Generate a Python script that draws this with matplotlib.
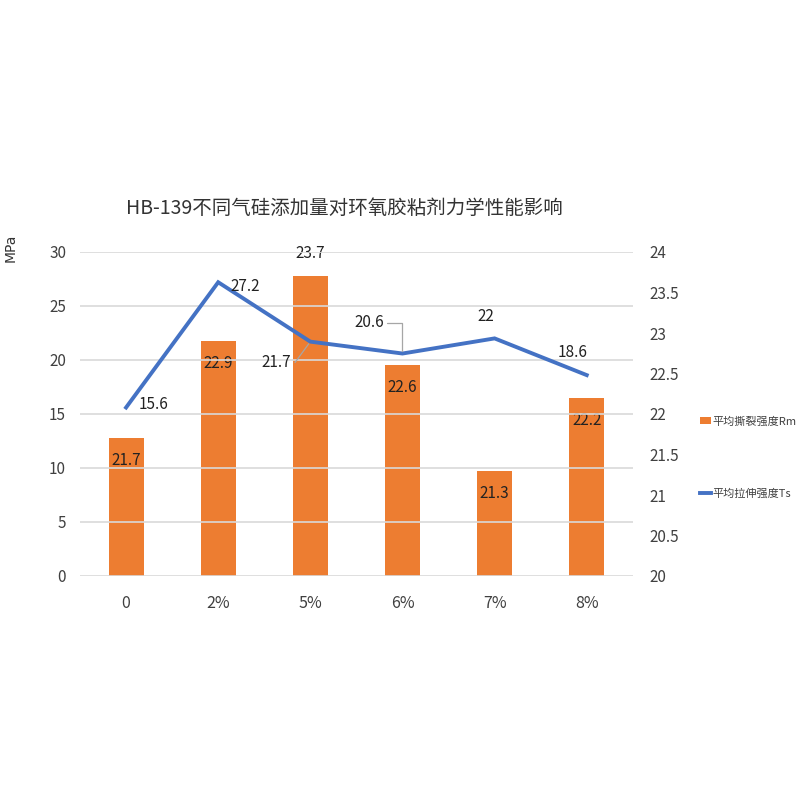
import matplotlib
matplotlib.use("Agg")
import matplotlib.pyplot as plt
from matplotlib.patches import Patch
from matplotlib.lines import Line2D

plt.rcParams['font.family'] = ['Noto Sans CJK SC', 'DejaVu Sans']

categories = ["0", "2%", "5%", "6%", "7%", "8%"]
tear_rm = [21.7, 22.9, 23.7, 22.6, 21.3, 22.2]      # bars, right axis
tensile_ts = [15.6, 27.2, 21.7, 20.6, 22.0, 18.6]   # line, left axis
left_ticks = [0, 5, 10, 15, 20, 25, 30]
right_ticks = [20, 20.5, 21, 21.5, 22, 22.5, 23, 23.5, 24]

bar_color = "#ED7D31"
line_color = "#4472C4"
text_color = "#404040"

fig = plt.figure(figsize=(8, 8), dpi=100)
ax = fig.add_axes([0.1, 0.28, 0.691, 0.405])
ax2 = ax.twinx()

x = list(range(len(categories)))

# bars on the secondary axis
ax2.bar(x, [v - 20 for v in tear_rm], bottom=20, width=0.38, color=bar_color, zorder=2)
ax2.set_ylim(20, 24)
ax2.set_yticks(right_ticks)
ax2.set_yticklabels([f"{t:g}" for t in right_ticks])

# line on the primary axis, drawn above the bars
ax.set_zorder(ax2.get_zorder() + 1)
ax.patch.set_visible(False)
ax.plot(x, tensile_ts, color=line_color, linewidth=2.8, solid_joinstyle='miter', zorder=3)
ax.set_ylim(0, 30)
ax.set_yticks(left_ticks)
ax.set_xlim(-0.5, len(categories) - 0.5)
ax.set_xticks(x)
ax.set_xticklabels(categories)
ax.yaxis.grid(True, color="#D9D9D9", linewidth=1.2, zorder=0)
ax2.set_axisbelow(True)

for a in (ax, ax2):
    for s in a.spines.values():
        s.set_visible(False)
    a.tick_params(length=0, labelsize=11, colors=text_color)
ax.tick_params(axis='x', pad=14, labelsize=11.5)
ax.tick_params(axis='y', pad=10)
ax2.tick_params(axis='y', pad=12)

# bar value labels
for i, v in enumerate(tear_rm):
    if i == 2:
        ax2.annotate(f"{v:g}", (i, v), xytext=(0, 10), textcoords="offset points",
                     ha="center", va="bottom", fontsize=11, color="#222222")
    else:
        ax2.annotate(f"{v:g}", (i, v), xytext=(0, -10), textcoords="offset points",
                     ha="center", va="top", fontsize=11, color="#222222")

# line value labels
line_offsets = [(9, 2, "left", "center"), (9, -3, "left", "center"),
                (-14, -15, "right", "center"), (-13, 22, "right", "center"),
                (-6, 10, "center", "bottom"), (-10, 10, "center", "bottom")]
for i, (v, (dx, dy, ha, va)) in enumerate(zip(tensile_ts, line_offsets)):
    ax.annotate(f"{v:g}", (i, v), xytext=(dx, dy), textcoords="offset points",
                ha=ha, va=va, fontsize=11, color="#222222", zorder=4)

# leader lines for two offset labels
ax.annotate("", (2, tensile_ts[2]), xytext=(-11, -15), textcoords="offset points",
            arrowprops=dict(arrowstyle="-", color="#A6A6A6", lw=0.9, shrinkA=0, shrinkB=2))
ax.annotate("", (3, tensile_ts[3]), xytext=(-11, 22), textcoords="offset points",
            arrowprops=dict(arrowstyle="-", color="#A6A6A6", lw=0.9, shrinkA=0, shrinkB=2,
                            connectionstyle="angle,angleA=0,angleB=90"))

fig.text(0.43, 0.74, "HB-139不同气硅添加量对环氧胶粘剂力学性能影响",
         ha="center", va="center", fontsize=14, color="#333333")
fig.text(0.013, 0.69, "MPa", rotation=90, ha="center", va="center",
         fontsize=10, color="#333333", family=["DejaVu Sans"])

handles = [Patch(facecolor=bar_color, edgecolor="none"),
           Line2D([0], [0], color=line_color, linewidth=2.8)]
fig.legend(handles, ["平均撕裂强度Rm", "平均拉伸强度Ts"], loc="center left",
           bbox_to_anchor=(0.862, 0.428), frameon=False,
           labelspacing=5.6, handlelength=1.0, handletextpad=0.2,
           labelcolor=text_color, prop={'family': ['Noto Sans CJK SC'], 'size': 8})

fig.savefig("out.png", dpi=100, facecolor="white")
